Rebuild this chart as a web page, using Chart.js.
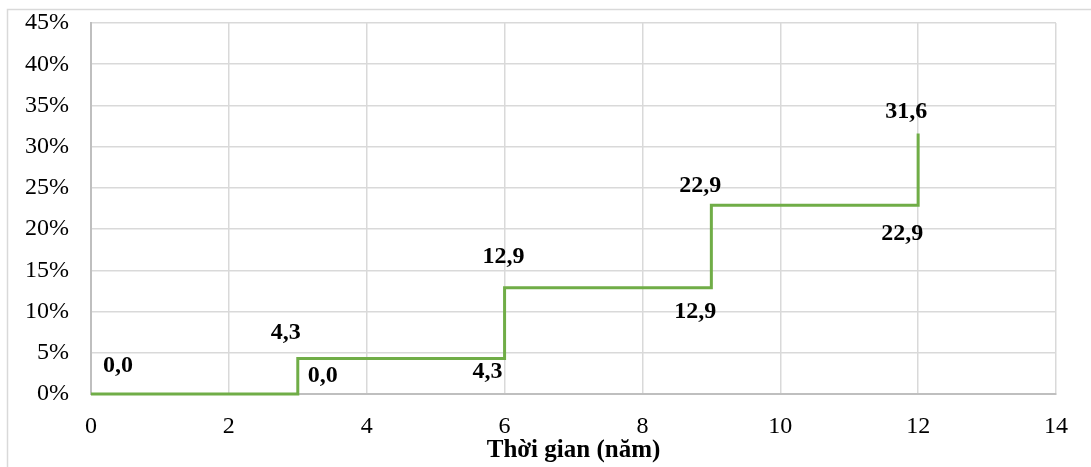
<!DOCTYPE html>
<html>
<head>
<meta charset="utf-8">
<script src="https://cdn.jsdelivr.net/npm/chart.js@4"></script>
<style>
  html, body { margin: 0; padding: 0; background: #ffffff; }
  #wrap { width: 1091px; height: 467px; position: relative; }
</style>
</head>
<body>
<div id="wrap"><canvas id="c" width="1091" height="467"></canvas></div>
<script>
// ---- data ----
const years = [0, 3, 6, 9, 12];
const values = [0.0, 4.3, 12.9, 22.9, 31.6];
const xTicks = [0, 2, 4, 6, 8, 10, 12, 14];
const yTicks = [0, 5, 10, 15, 20, 25, 30, 35, 40, 45];
const xTitle = 'Thời gian (năm)';

// label placement (pixels relative to step corners)
const aboveOffsets = [[27, -28], [-12, -26], [-1, -31], [-11, -19], [-12, -22]];
const belowOffsets = [null, [25, -18], [-17, 13], [-16, 24], [-16, 29]];

const fmt = v => v.toFixed(1).replace('.', ',');

const frame = {
  id: 'frame',
  beforeDraw(chart) {
    const ctx = chart.ctx;
    ctx.save();
    ctx.fillStyle = '#ffffff';
    ctx.fillRect(0, 0, chart.width, chart.height);
    ctx.strokeStyle = '#d9d9d9';
    ctx.lineWidth = 1.5;
    ctx.beginPath();
    ctx.moveTo(7.5, chart.height);
    ctx.lineTo(7.5, 9.5);
    ctx.lineTo(chart.width, 9.5);
    ctx.stroke();
    ctx.restore();
  }
};

const stepLabels = {
  id: 'stepLabels',
  afterDatasetsDraw(chart) {
    const ctx = chart.ctx;
    const xs = chart.scales.x, ys = chart.scales.y;
    ctx.save();
    ctx.font = 'bold 24px "Liberation Serif", "Times New Roman", serif';
    ctx.fillStyle = '#000000';
    ctx.textAlign = 'center';
    ctx.textBaseline = 'middle';
    years.forEach((yr, i) => {
      const px = xs.getPixelForValue(yr);
      const a = aboveOffsets[i];
      ctx.fillText(fmt(values[i]), px + a[0], ys.getPixelForValue(values[i]) + a[1]);
      if (i > 0) {
        const b = belowOffsets[i];
        ctx.fillText(fmt(values[i - 1]), px + b[0], ys.getPixelForValue(values[i - 1]) + b[1]);
      }
    });
    ctx.restore();
  }
};

new Chart(document.getElementById('c'), {
  type: 'line',
  data: {
    datasets: [{
      data: years.map((x, i) => ({ x: x, y: values[i] })),
      stepped: true,
      borderColor: '#70ad47',
      borderWidth: 3,
      pointRadius: 0,
      fill: false,
      clip: false
    }]
  },
  options: {
    responsive: false,
    animation: false,
    devicePixelRatio: 1,
    layout: { padding: { left: 0, right: 35, top: 23, bottom: 0 } },
    plugins: { legend: { display: false }, tooltip: { enabled: false } },
    scales: {
      x: {
        type: 'linear',
        min: 0, max: 14,
        afterBuildTicks: s => { s.ticks = xTicks.map(v => ({ value: v })); },
        afterFit: s => { s.height = 73; s.paddingLeft = 0; s.paddingRight = 0; },
        grid: { color: '#d9d9d9', lineWidth: 1.5, drawTicks: false },
        border: { color: '#bfbfbf', width: 2 },
        ticks: {
          padding: 18,
          color: '#000000',
          font: { family: '"Liberation Serif", "Times New Roman", serif', size: 24 },
          callback: v => String(v)
        },
        title: {
          display: true,
          text: xTitle,
          color: '#000000',
          padding: { top: 0, bottom: 1 },
          font: { family: '"Liberation Serif", "Times New Roman", serif', size: 25, weight: 'bold' }
        }
      },
      y: {
        min: 0, max: 45,
        afterBuildTicks: s => { s.ticks = yTicks.map(v => ({ value: v })); },
        afterFit: s => { s.width = 91; s.paddingTop = 0; s.paddingBottom = 0; },
        grid: { color: '#d9d9d9', lineWidth: 1.5, drawTicks: false },
        border: { color: '#bfbfbf', width: 2 },
        ticks: {
          padding: 22,
          color: '#000000',
          font: { family: '"Liberation Serif", "Times New Roman", serif', size: 24 },
          callback: v => v + '%'
        }
      }
    }
  },
  plugins: [frame, stepLabels]
});
</script>
</body>
</html>
